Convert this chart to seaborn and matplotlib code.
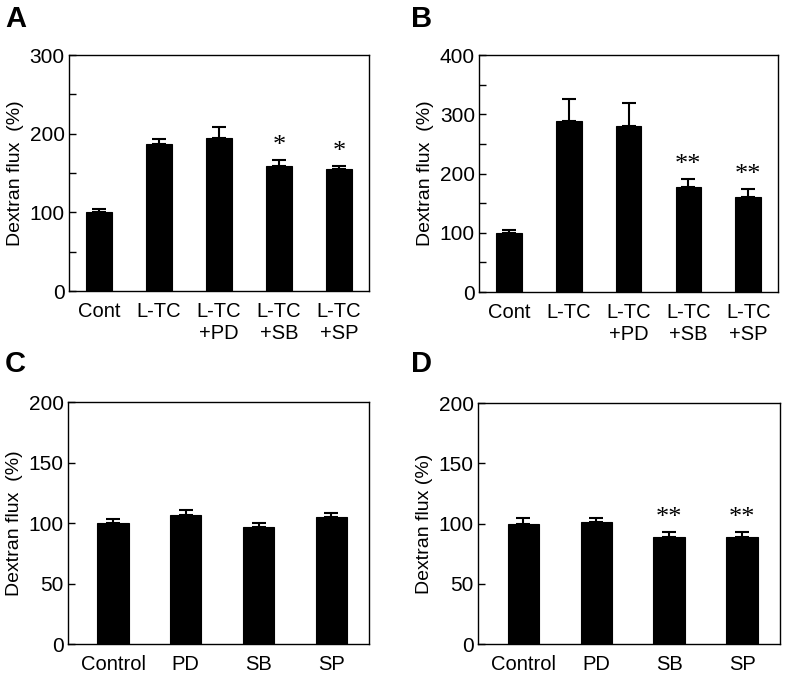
import numpy as np
import matplotlib
matplotlib.use('Agg')
import matplotlib.pyplot as plt
import seaborn as sns
from matplotlib.ticker import MultipleLocator

sns.set_style('white')
plt.rcParams['font.family'] = ['Liberation Sans', 'DejaVu Sans']
plt.rcParams['text.color'] = 'black'
plt.rcParams['axes.labelcolor'] = 'black'
plt.rcParams['xtick.color'] = 'black'
plt.rcParams['ytick.color'] = 'black'

# Panel A / B: L-TC treatments
labels_ab = ['Cont', 'L-TC', 'L-TC\n+PD', 'L-TC\n+SB', 'L-TC\n+SP']
vals_a = [100, 187, 195, 159, 155]
err_a = [4, 6, 14, 8, 4]
stars_a = ['', '', '', '*', '*']
vals_b = [100, 289, 280, 177, 160]
err_b = [5, 37, 39, 14, 14]
stars_b = ['', '', '', '**', '**']

# Panel C / D: inhibitors alone
labels_cd = ['Control', 'PD', 'SB', 'SP']
vals_c = [100, 107, 97, 105]
err_c = [3, 3.5, 3, 3]
stars_c = ['', '', '', '']
vals_d = [100, 101.5, 88.5, 88.5]
err_d = [5, 3.5, 4.2, 4.2]
stars_d = ['', '', '**', '**']

fig = plt.figure(figsize=(7.87, 6.76), dpi=100)

panels = [
    ('A', [0.0877, 0.5695, 0.381, 0.349], labels_ab, vals_a, err_a, stars_a, 300, 100, 'Dextran flux  (%)', (-0.5, 4.5)),
    ('B', [0.6087, 0.568, 0.380, 0.3506], labels_ab, vals_b, err_b, stars_b, 400, 100, 'Dextran flux  (%)', (-0.5, 4.5)),
    ('C', [0.0864, 0.0473, 0.3825, 0.358], labels_cd, vals_c, err_c, stars_c, 200, 50, 'Dextran flux  (%)', (-0.62, 3.52)),
    ('D', [0.6074, 0.0473, 0.3837, 0.3565], labels_cd, vals_d, err_d, stars_d, 200, 50, 'Dextran flux (%)', (-0.62, 3.52)),
]
letter_pos = {'A': (5, 5), 'B': (411, 5), 'C': (5, 350), 'D': (411, 350)}

for name, rect, labels, vals, errs, stars, ymax, major, ylab, xlim in panels:
    ax = fig.add_axes(rect)
    sns.barplot(x=labels, y=vals, color='black', width=0.43, ax=ax,
                edgecolor='black', linewidth=0.8, saturation=1)
    pos = np.arange(len(vals))
    ax.errorbar(pos, vals, yerr=[np.zeros(len(vals)), errs], fmt='none',
                ecolor='black', elinewidth=1.5, capsize=5, capthick=1.5)
    for p, v, e, s in zip(pos, vals, errs, stars):
        if s:
            ax.text(p, v + e + ymax * 0.012, s, ha='center', va='bottom',
                    fontsize=19, family=['Liberation Serif', 'DejaVu Serif'])
    ax.set_ylim(0, ymax)
    ax.set_xlim(*xlim)
    ax.yaxis.set_major_locator(MultipleLocator(major))
    if major == 100:
        ax.yaxis.set_minor_locator(MultipleLocator(50))
    ax.tick_params(axis='y', which='major', direction='in', length=5, width=1,
                   labelsize=15, left=True, pad=3)
    ax.tick_params(axis='y', which='minor', direction='in', length=5, width=1, left=True)
    ax.tick_params(axis='x', length=0, labelsize=14.5, pad=8)
    ax.set_ylabel(ylab, fontsize=14, labelpad=4)
    ax.set_xlabel('')
    for sp in ax.spines.values():
        sp.set_visible(True)
        sp.set_color('black')
        sp.set_linewidth(1.0)
    lx, ly = letter_pos[name]
    fig.text(lx / 787, 1 - ly / 676, name, fontsize=21, fontweight='bold',
             ha='left', va='top')

fig.savefig('out.png', dpi=100)
